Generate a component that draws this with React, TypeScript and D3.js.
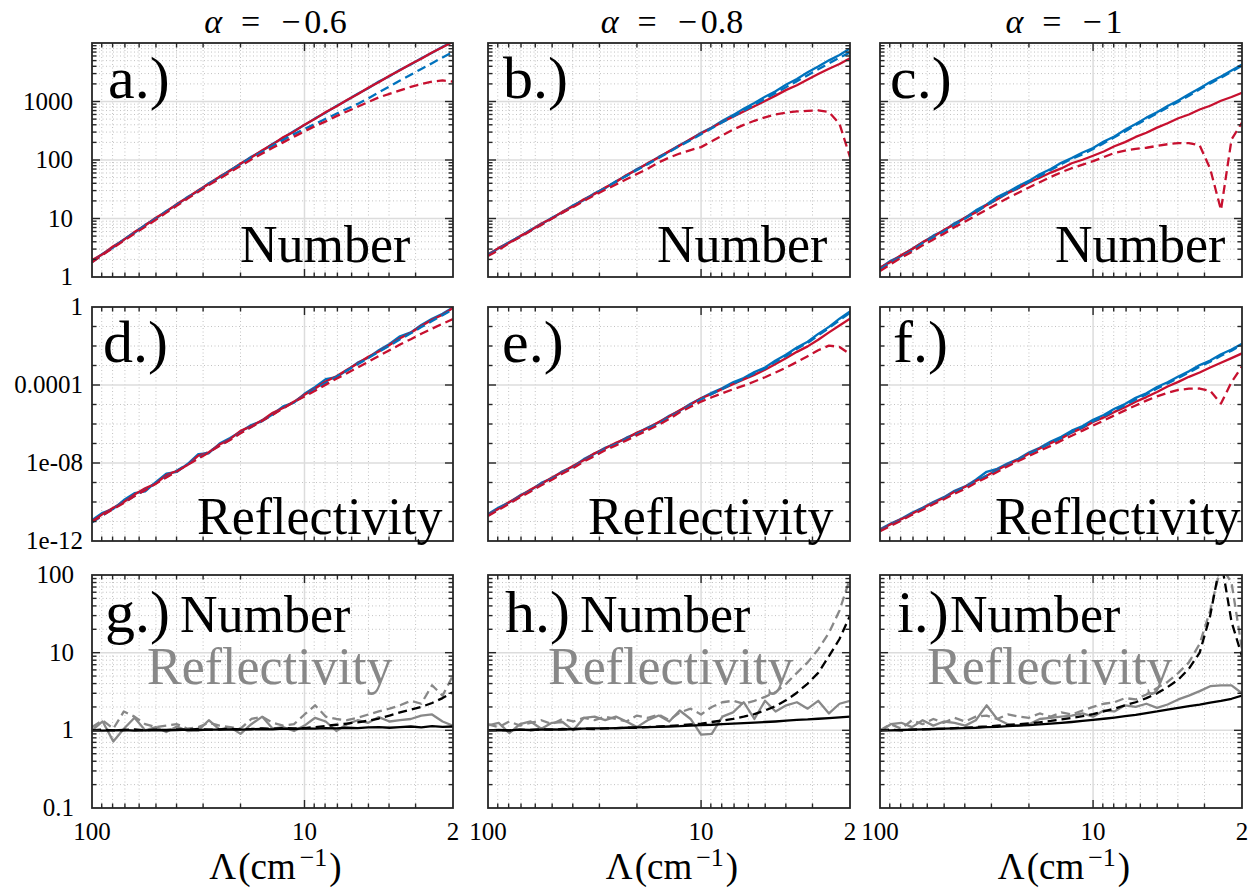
import React from "react";
import * as d3 from "d3";

// Cutoff scale Λ (cm^-1) for every curve
const lambda = [100, 89.1, 79.4, 70.8, 63.1, 56.2, 50.1, 44.7, 39.8, 35.5, 31.6, 28.2, 25.1, 22.4, 20.0, 17.8, 15.8, 14.1, 12.6, 11.2, 10.0, 8.91, 7.94, 7.08, 6.31, 5.62, 5.01, 4.47, 3.98, 3.55, 3.16, 2.82, 2.51, 2.24, 2.0];

const alphaValues = ["0.6", "0.8", "1"];
const panelLetters = ["a", "b", "c", "d", "e", "f", "g", "h", "i"];
const xTickValues = [100, 10, 2];
const xTickLabels = ["100", "10", "2"];
const numberTickValues = [1, 10, 100, 1000];
const numberTickLabels = ["1", "10", "100", "1000"];
const reflTickValues = [1e-12, 1e-8, 1e-4, 1];
const reflTickLabels = ["1e-12", "1e-08", "0.0001", "1"];
const ratioTickValues = [0.1, 1, 10, 100];
const ratioTickLabels = ["0.1", "1", "10", "100"];

// Number, alpha = -0.6
const numA_blue = [1.86, 2.5, 3.2, 4.4, 5.7, 7.8, 9.9, 13.5, 17.2, 23.4, 29.6, 40, 50.5, 67, 85, 114, 143, 190, 238, 314, 395, 515, 645, 840, 1050, 1360, 1690, 2190, 2700, 3480, 4300, 5500, 6800, 8600, 10600];
const numA_red = [1.95, 2.45, 3.35, 4.3, 5.9, 7.6, 10.3, 13.1, 17.8, 22.6, 30.5, 39, 52, 65.5, 87, 110, 147, 185, 245, 305, 402, 505, 660, 822, 1065, 1330, 1720, 2140, 2760, 3420, 4380, 5380, 6900, 8450, 10500];
const numA_blueDash = [1.8, 2.4, 3.25, 4.35, 5.75, 7.5, 10.0, 13.0, 17.3, 22.5, 29.5, 38.5, 50, 65, 85, 109, 138, 175, 220, 277, 339, 415, 506, 617, 750, 910, 1130, 1430, 1810, 2280, 2870, 3600, 4520, 5650, 7060];
const numA_redDash = [1.78, 2.4, 3.16, 4.2, 5.5, 7.2, 9.5, 12.6, 16.6, 21.9, 28.5, 37.2, 47.9, 61.7, 79.4, 102, 129, 162, 200, 251, 309, 380, 457, 562, 676, 813, 977, 1175, 1349, 1549, 1778, 1995, 2188, 2291, 2188];

// Number, alpha = -0.8
const numB_blue = [2.45, 3.1, 3.95, 4.9, 6.4, 8.0, 10.3, 12.8, 16.8, 20.6, 27, 33, 43.5, 54, 70, 86, 113, 140, 181, 224, 292, 360, 470, 585, 750, 940, 1210, 1500, 1960, 2430, 3150, 3950, 5050, 6250, 8100];
const numB_red = [2.4, 3.15, 3.85, 5.0, 6.2, 8.2, 10.0, 13.1, 16.2, 21.3, 26.2, 34, 42, 55.5, 68, 88.5, 110, 143, 176, 229, 285, 355, 447, 550, 676, 832, 1020, 1260, 1580, 1900, 2370, 2950, 3630, 4370, 5500];
const numB_blueDash = [2.35, 3.0, 3.9, 4.95, 6.2, 7.9, 10.1, 12.7, 16.4, 20.8, 26.3, 33.2, 42.5, 53.5, 67.5, 85, 108, 137, 174, 219, 276, 348, 441, 555, 700, 880, 1110, 1400, 1770, 2230, 2810, 3550, 4470, 5600, 6920];
const numB_redDash = [2.29, 2.88, 3.8, 4.79, 6.17, 7.76, 10, 12.6, 15.8, 20, 25.1, 30.9, 38, 46.8, 57.5, 70.8, 91.2, 110, 129, 148, 166, 209, 263, 331, 398, 468, 537, 603, 646, 676, 692, 708, 661, 417, 112];

// Number, alpha = -1
const numC_blue = [1.41, 1.9, 2.3, 3.0, 3.9, 5.1, 6.2, 8.3, 10.3, 13.8, 17.4, 23.3, 28.5, 36, 44, 57, 70, 90, 108, 134, 160, 207, 253, 328, 412, 530, 655, 840, 1040, 1330, 1690, 2150, 2680, 3400, 4270];
const numC_red = [1.45, 1.8, 2.38, 2.98, 3.95, 4.85, 6.4, 7.85, 10.4, 12.7, 16.9, 21.1, 27.3, 32.8, 41.2, 49.6, 61, 71.8, 88, 101, 118, 140, 172, 202, 248, 292, 358, 424, 518, 600, 730, 846, 1030, 1195, 1413];
const numC_blueDash = [1.35, 1.78, 2.25, 2.82, 3.8, 4.8, 6.0, 7.8, 10.0, 12.9, 16.9, 21.8, 27.4, 33.8, 42.5, 53.5, 67.3, 84.7, 104.5, 125, 154, 194, 244, 308, 396, 499, 628, 790, 995, 1252, 1613, 2031, 2557, 3219, 4100];
const numC_redDash = [1.26, 1.66, 2.14, 2.69, 3.47, 4.37, 5.5, 7.08, 8.91, 11.2, 14.1, 17.8, 22.4, 27.5, 33.9, 41.7, 51.3, 61.7, 72.4, 83.2, 95.5, 112, 132, 145, 155, 162, 174, 186, 195, 195, 178, 70.8, 14, 224, 437];

// Reflectivity, alpha = -0.6
const refD_blue = [1.18e-11, 2.82e-11, 4.47e-11, 1.26e-10, 2.82e-10, 3.55e-10, 1.05e-9, 2.82e-9, 3.55e-9, 8.91e-9, 2.82e-8, 3.16e-8, 1.0e-7, 1.91e-7, 3.98e-7, 8.91e-7, 1.41e-6, 3.16e-6, 7.94e-6, 1.26e-5, 3.55e-5, 7.94e-5, 2.0e-4, 2.51e-4, 5.62e-4, 1.41e-3, 2.51e-3, 6.03e-3, 1.26e-2, 3.16e-2, 5.01e-2, 0.12, 0.251, 0.447, 0.955];
const refD_red = [1.0e-11, 2.4e-11, 5.01e-11, 1.0e-10, 2.4e-10, 5.01e-10, 8.91e-10, 2.4e-9, 3.98e-9, 7.94e-9, 2.4e-8, 3.55e-8, 8.91e-8, 1.66e-7, 4.47e-7, 7.59e-7, 1.58e-6, 3.8e-6, 6.61e-6, 1.41e-5, 3.16e-5, 6.61e-5, 1.51e-4, 2.82e-4, 6.03e-4, 1.26e-3, 2.82e-3, 5.25e-3, 1.12e-2, 2.51e-2, 4.79e-2, 0.105, 0.224, 0.398, 0.891];
const refD_blueDash = [8.91e-12, 2.0e-11, 4.79e-11, 9.55e-11, 2.0e-10, 4.17e-10, 9.55e-10, 1.91e-9, 4.17e-9, 8.71e-9, 1.78e-8, 3.8e-8, 7.59e-8, 1.58e-7, 3.55e-7, 7.08e-7, 1.51e-6, 3.02e-6, 6.61e-6, 1.38e-5, 2.82e-5, 6.03e-5, 1.26e-4, 2.63e-4, 5.5e-4, 1.15e-3, 2.4e-3, 5.01e-3, 1.05e-2, 2.19e-2, 4.47e-2, 9.33e-2, 0.191, 0.38, 0.759];
const refD_redDash = [9.55e-12, 2.09e-11, 4.37e-11, 8.91e-11, 2.0e-10, 3.98e-10, 8.71e-10, 1.82e-9, 3.8e-9, 7.94e-9, 1.66e-8, 3.47e-8, 7.59e-8, 1.51e-7, 3.31e-7, 6.92e-7, 1.45e-6, 3.02e-6, 6.31e-6, 1.35e-5, 2.57e-5, 5.13e-5, 1.02e-4, 2.09e-4, 3.98e-4, 7.94e-4, 1.55e-3, 3.09e-3, 6.03e-3, 1.2e-2, 2.24e-2, 4.27e-2, 7.76e-2, 0.138, 0.24];

// Reflectivity, alpha = -0.8
const refE_blue = [2.4e-11, 5.25e-11, 9.55e-11, 2.19e-10, 3.98e-10, 9.55e-10, 1.66e-9, 3.8e-9, 6.61e-9, 1.58e-8, 3.02e-8, 6.03e-8, 1.0e-7, 2.0e-7, 3.31e-7, 6.61e-7, 1.2e-6, 2.63e-6, 4.79e-6, 1.1e-5, 2.09e-5, 3.98e-5, 6.92e-5, 1.38e-4, 2.29e-4, 4.57e-4, 7.94e-4, 1.82e-3, 3.63e-3, 8.32e-3, 1.66e-2, 4.17e-2, 9.55e-2, 0.251, 0.589];
const refE_red = [2.19e-11, 4.57e-11, 1.0e-10, 2.0e-10, 4.37e-10, 8.32e-10, 1.82e-9, 3.47e-9, 7.24e-9, 1.38e-8, 3.16e-8, 5.5e-8, 1.1e-7, 1.82e-7, 3.63e-7, 6.03e-7, 1.26e-6, 2.4e-6, 5.01e-6, 1.0e-5, 2.09e-5, 3.47e-5, 6.31e-5, 1.1e-4, 1.91e-4, 3.31e-4, 6.03e-4, 1.2e-3, 2.4e-3, 5.01e-3, 9.55e-3, 2.09e-2, 5.01e-2, 0.112, 0.251];
const refE_blueDash = [2.0e-11, 4.57e-11, 8.91e-11, 1.91e-10, 3.8e-10, 7.94e-10, 1.58e-9, 3.16e-9, 6.31e-9, 1.32e-8, 2.63e-8, 5.25e-8, 9.12e-8, 1.74e-7, 3.02e-7, 5.75e-7, 1.1e-6, 2.19e-6, 4.37e-6, 9.12e-6, 1.82e-5, 3.47e-5, 6.31e-5, 1.2e-4, 2.09e-4, 3.98e-4, 7.24e-4, 1.58e-3, 3.16e-3, 7.24e-3, 1.45e-2, 3.47e-2, 8.32e-2, 0.209, 0.501];
const refE_redDash = [1.91e-11, 3.98e-11, 8.32e-11, 1.74e-10, 3.47e-10, 7.24e-10, 1.38e-9, 2.88e-9, 5.5e-9, 1.2e-8, 2.29e-8, 4.57e-8, 7.94e-8, 1.45e-7, 2.63e-7, 4.79e-7, 9.12e-7, 1.82e-6, 3.98e-6, 7.59e-6, 1.41e-5, 2.34e-5, 3.8e-5, 6.03e-5, 9.33e-5, 1.51e-4, 2.51e-4, 4.37e-4, 7.94e-4, 1.51e-3, 3.02e-3, 6.03e-3, 1.05e-2, 8.91e-3, 3.89e-3];

// Reflectivity, alpha = -1
const refF_blue = [3.98e-12, 7.94e-12, 1.38e-11, 2.82e-11, 5.01e-11, 1.0e-10, 1.78e-10, 3.8e-10, 6.31e-10, 1.38e-9, 3.55e-9, 5.01e-9, 9.55e-9, 1.66e-8, 3.47e-8, 6.03e-8, 1.26e-7, 2.19e-7, 4.57e-7, 7.94e-7, 1.66e-6, 2.88e-6, 6.03e-6, 1.05e-5, 2.19e-5, 3.8e-5, 7.94e-5, 1.38e-4, 2.75e-4, 5.01e-4, 1.05e-3, 1.82e-3, 3.8e-3, 6.61e-3, 1.32e-2];
const refF_red = [3.63e-12, 7.24e-12, 1.32e-11, 2.51e-11, 4.79e-11, 9.12e-11, 1.66e-10, 3.31e-10, 6.03e-10, 1.2e-9, 2.19e-9, 4.37e-9, 8.32e-9, 1.51e-8, 3.02e-8, 5.5e-8, 1.05e-7, 1.82e-7, 3.63e-7, 6.31e-7, 1.26e-6, 2.19e-6, 4.17e-6, 7.24e-6, 1.38e-5, 2.4e-5, 4.37e-5, 8.32e-5, 1.45e-4, 2.63e-4, 4.37e-4, 7.94e-4, 1.38e-3, 2.4e-3, 4.17e-3];
const refF_blueDash = [3.31e-12, 6.92e-12, 1.2e-11, 2.4e-11, 4.57e-11, 8.71e-11, 1.58e-10, 3.16e-10, 5.75e-10, 1.15e-9, 2.19e-9, 4.17e-9, 7.94e-9, 1.51e-8, 2.88e-8, 5.25e-8, 1.05e-7, 1.91e-7, 3.8e-7, 6.92e-7, 1.38e-6, 2.51e-6, 5.01e-6, 9.12e-6, 1.82e-5, 3.31e-5, 6.61e-5, 1.2e-4, 2.29e-4, 4.37e-4, 8.71e-4, 1.58e-3, 3.16e-3, 5.75e-3, 1.15e-2];
const refF_redDash = [3.16e-12, 6.03e-12, 1.12e-11, 2.19e-11, 3.98e-11, 7.59e-11, 1.38e-10, 2.63e-10, 4.79e-10, 9.55e-10, 1.82e-9, 3.47e-9, 6.92e-9, 1.26e-8, 2.29e-8, 4.17e-8, 7.59e-8, 1.38e-7, 2.51e-7, 4.57e-7, 8.32e-7, 1.51e-6, 2.75e-6, 5.01e-6, 8.91e-6, 1.58e-5, 2.63e-5, 3.98e-5, 5.62e-5, 6.46e-5, 6.61e-5, 5.01e-5, 1.12e-5, 1.41e-4, 8.91e-4];

// Ratios, alpha = -0.6 (black: number, gray: reflectivity)
const ratG_num = [1.0, 0.99, 1.0, 1.01, 0.99, 1.0, 1.01, 1.0, 1.01, 1.02, 1.01, 1.02, 1.02, 1.03, 1.02, 1.03, 1.04, 1.03, 1.05, 1.04, 1.06, 1.05, 1.07, 1.06, 1.08, 1.07, 1.09, 1.1, 1.08, 1.1, 1.12, 1.09, 1.13, 1.11, 1.12];
const ratG_numDash = [1.0, 1.02, 1.0, 1.01, 1.03, 1.0, 1.02, 1.01, 1.03, 1.02, 1.04, 1.02, 1.03, 1.05, 1.03, 1.04, 1.06, 1.05, 1.07, 1.06, 1.07, 1.1, 1.14, 1.18, 1.22, 1.27, 1.33, 1.42, 1.55, 1.7, 1.85, 2.0, 2.25, 2.6, 3.1];
const ratG_ref = [1.0, 1.3, 0.72, 1.05, 1.45, 1.0, 1.1, 0.95, 1.12, 0.98, 1.0, 1.35, 1.02, 1.1, 0.9, 1.2, 1.5, 1.05, 1.1, 0.98, 1.15, 1.45, 1.3, 0.98, 1.2, 1.35, 1.25, 1.48, 1.3, 1.35, 1.4, 1.55, 1.6, 1.3, 1.15];
const ratG_refDash = [1.1, 1.35, 1.05, 1.75, 1.5, 1.2, 1.1, 1.15, 1.2, 1.05, 1.1, 1.25, 1.15, 1.1, 1.05, 1.4, 1.5, 1.25, 1.15, 1.2, 1.6, 2.1, 1.5, 1.4, 1.35, 1.45, 1.6, 1.75, 1.9, 2.1, 2.4, 2.2, 3.8, 2.8, 5.1];

// Ratios, alpha = -0.8
const ratH_num = [1.0, 1.01, 1.0, 1.02, 1.01, 1.02, 1.03, 1.02, 1.04, 1.05, 1.06, 1.06, 1.07, 1.08, 1.09, 1.1, 1.11, 1.12, 1.13, 1.15, 1.17, 1.18, 1.2, 1.22, 1.24, 1.26, 1.28, 1.3, 1.33, 1.36, 1.38, 1.41, 1.44, 1.47, 1.5];
const ratH_numDash = [1.0, 1.01, 1.0, 1.02, 1.01, 1.03, 1.02, 1.04, 1.03, 1.05, 1.04, 1.06, 1.07, 1.08, 1.08, 1.1, 1.12, 1.14, 1.16, 1.19, 1.22, 1.28, 1.34, 1.4, 1.5, 1.62, 1.8, 2.05, 2.45, 3.05, 4.0, 5.5, 9.0, 15, 30];
const ratH_ref = [1.16, 1.25, 0.92, 1.2, 1.3, 1.05, 1.25, 1.28, 1.0, 1.45, 1.5, 1.35, 1.5, 1.3, 1.1, 1.35, 1.55, 1.3, 1.8, 1.4, 0.88, 0.9, 1.5, 1.7, 2.3, 1.4, 2.4, 1.75, 2.1, 2.3, 1.9, 2.4, 1.65, 2.2, 2.4];
const ratH_refDash = [1.2, 1.1, 1.3, 1.15, 1.25, 1.35, 1.2, 1.4, 1.3, 1.45, 1.35, 1.5, 1.4, 1.3, 1.55, 1.45, 1.6, 1.35, 1.7, 1.9, 1.6, 2.0, 2.3, 2.4, 2.2, 2.4, 2.7, 3.1, 4.0, 5.5, 7.5, 11, 18, 35, 90];

// Ratios, alpha = -1
const ratI_num = [1.0, 1.0, 1.01, 1.02, 1.03, 1.04, 1.05, 1.06, 1.07, 1.08, 1.1, 1.11, 1.13, 1.15, 1.17, 1.19, 1.22, 1.25, 1.28, 1.32, 1.36, 1.41, 1.46, 1.52, 1.58, 1.67, 1.75, 1.85, 1.95, 2.05, 2.15, 2.28, 2.4, 2.55, 2.8];
const ratI_numDash = [1.0, 1.02, 1.0, 1.02, 1.03, 1.04, 1.05, 1.07, 1.08, 1.1, 1.12, 1.15, 1.17, 1.2, 1.23, 1.27, 1.32, 1.38, 1.44, 1.52, 1.62, 1.75, 1.9, 2.1, 2.3, 2.6, 3.0, 3.6, 4.5, 6.2, 10, 30, 160, 25, 9];
const ratI_ref = [0.97, 1.2, 1.25, 1.1, 1.35, 1.15, 1.3, 1.25, 1.15, 1.35, 2.1, 1.4, 1.2, 1.15, 1.2, 1.4, 1.45, 1.5, 1.55, 1.65, 1.5, 1.8, 1.75, 2.1, 2.0, 2.2, 1.95, 2.15, 2.5, 2.8, 3.2, 3.7, 3.8, 3.8, 3.0];
const ratI_refDash = [1.0, 1.2, 1.05, 1.35, 1.2, 1.4, 1.25, 1.45, 1.3, 1.5, 1.55, 1.4, 1.6, 1.5, 1.45, 1.65, 1.5, 1.7, 1.6, 1.8, 2.0, 2.2, 2.3, 2.6, 2.5, 2.9, 3.5, 4.2, 5.5, 7.5, 13, 35, 130, 80, 11];

const BLUE = "#0072BD";
const RED = "#C7102F";
const BLACK = "#000000";
const GRAY = "#888888";
const AXIS = "#262626";

type Series = { values: number[]; color: string; dashed: boolean };
const s = (values: number[], color: string, dashed: boolean): Series => ({ values, color, dashed });

const panelSeries: Series[][] = [
  [s(numA_blue, BLUE, false), s(numA_red, RED, false), s(numA_blueDash, BLUE, true), s(numA_redDash, RED, true)],
  [s(numB_blue, BLUE, false), s(numB_red, RED, false), s(numB_blueDash, BLUE, true), s(numB_redDash, RED, true)],
  [s(numC_blue, BLUE, false), s(numC_red, RED, false), s(numC_blueDash, BLUE, true), s(numC_redDash, RED, true)],
  [s(refD_blue, BLUE, false), s(refD_red, RED, false), s(refD_blueDash, BLUE, true), s(refD_redDash, RED, true)],
  [s(refE_blue, BLUE, false), s(refE_red, RED, false), s(refE_blueDash, BLUE, true), s(refE_redDash, RED, true)],
  [s(refF_blue, BLUE, false), s(refF_red, RED, false), s(refF_blueDash, BLUE, true), s(refF_redDash, RED, true)],
  [s(ratG_ref, GRAY, false), s(ratG_refDash, GRAY, true), s(ratG_num, BLACK, false), s(ratG_numDash, BLACK, true)],
  [s(ratH_ref, GRAY, false), s(ratH_refDash, GRAY, true), s(ratH_num, BLACK, false), s(ratH_numDash, BLACK, true)],
  [s(ratI_ref, GRAY, false), s(ratI_refDash, GRAY, true), s(ratI_num, BLACK, false), s(ratI_numDash, BLACK, true)],
];

// Layout of the 3 x 3 grid of axes
const colX = [[92, 453], [488, 850], [880, 1242]];
const rowY = [[43, 277], [307, 541], [575, 808]];

function decadeMinors(e0: number, e1: number): number[] {
  const out: number[] = [];
  for (let e = e0; e <= e1; e++) for (let m = 2; m <= 9; m++) out.push(m * Math.pow(10, e));
  return out;
}

const reflMinor: number[] = [];
for (let e = -11; e <= -1; e++) if (e !== -8 && e !== -4) reflMinor.push(Math.pow(10, e));

const rowCfg = [
  { domain: [1, 1e4], major: numberTickValues, labels: numberTickLabels, minor: decadeMinors(0, 3), labelRight: 73 },
  { domain: [1e-12, 1], major: reflTickValues, labels: reflTickLabels, minor: reflMinor, labelRight: 83 },
  { domain: [0.1, 100], major: ratioTickValues, labels: ratioTickLabels, minor: decadeMinors(-1, 1), labelRight: 74 },
];

const xMinor = [90, 80, 70, 60, 50, 40, 30, 20, 9, 8, 7, 6, 5, 4, 3];

// Text placement inside each panel
const letterX = [[108, 503, 890], [103, 502, 893], [105, 505, 897]];
const letterBaseline = [98, 362, 632];
const numberTextX = [240, 657, 1055];
const reflTextX = [197, 588, 995];
const row3NumberX = [180, 580, 950];
const row3ReflX = [147, 548, 927];

function Panel({ row, col }: { row: number; col: number }) {
  const [x0, x1] = colX[col];
  const [y0, y1] = rowY[row];
  const cfg = rowCfg[row];
  const xs = d3.scaleLog().domain([100, 2]).range([x0, x1]);
  const ys = d3.scaleLog().domain(cfg.domain).range([y1, y0]);
  const line = d3
    .line<number>()
    .x((_, i) => xs(lambda[i]))
    .y((d) => ys(d));
  const idx = row * 3 + col;
  const clipId = `clip-${idx}`;
  const MAJ = 8;
  const MIN = 4.5;
  const inY = (v: number) => v > cfg.domain[0] * 1.0001 && v < cfg.domain[1] * 0.9999;
  const inX = (v: number) => v < 99.99 && v > 2.0001;

  return (
    <g>
      <defs>
        <clipPath id={clipId}>
          <rect x={x0} y={y0} width={x1 - x0} height={y1 - y0} />
        </clipPath>
      </defs>
      <rect x={x0} y={y0} width={x1 - x0} height={y1 - y0} fill="#ffffff" />
      {/* minor grid */}
      <g stroke="#c2c2c2" strokeWidth={1} strokeDasharray="1,2.5">
        {cfg.minor.filter(inY).map((v) => (
          <line key={`gy${v}`} x1={x0} x2={x1} y1={ys(v)} y2={ys(v)} />
        ))}
        {xMinor.map((v) => (
          <line key={`gx${v}`} x1={xs(v)} x2={xs(v)} y1={y0} y2={y1} />
        ))}
      </g>
      {/* major grid */}
      <g stroke="#dcdcdc" strokeWidth={1.5}>
        {cfg.major.filter(inY).map((v) => (
          <line key={`My${v}`} x1={x0} x2={x1} y1={ys(v)} y2={ys(v)} />
        ))}
        {xTickValues.filter(inX).map((v) => (
          <line key={`Mx${v}`} x1={xs(v)} x2={xs(v)} y1={y0} y2={y1} />
        ))}
      </g>
      {/* data */}
      <g clipPath={`url(#${clipId})`} fill="none" strokeLinejoin="round">
        {panelSeries[idx].map((sr, k) => (
          <path
            key={k}
            d={line(sr.values) || ""}
            stroke={sr.color}
            strokeWidth={2.3}
            strokeDasharray={sr.dashed ? "9,5" : undefined}
          />
        ))}
      </g>
      {/* ticks */}
      <g stroke={AXIS} strokeWidth={1.4}>
        {cfg.major.filter(inY).map((v) => (
          <g key={`ty${v}`}>
            <line x1={x0} x2={x0 + MAJ} y1={ys(v)} y2={ys(v)} />
            <line x1={x1} x2={x1 - MAJ} y1={ys(v)} y2={ys(v)} />
          </g>
        ))}
        {cfg.minor.filter(inY).map((v) => (
          <g key={`tmy${v}`}>
            <line x1={x0} x2={x0 + MIN} y1={ys(v)} y2={ys(v)} />
            <line x1={x1} x2={x1 - MIN} y1={ys(v)} y2={ys(v)} />
          </g>
        ))}
        {xTickValues.filter(inX).map((v) => (
          <g key={`tx${v}`}>
            <line x1={xs(v)} x2={xs(v)} y1={y1} y2={y1 - MAJ} />
            <line x1={xs(v)} x2={xs(v)} y1={y0} y2={y0 + MAJ} />
          </g>
        ))}
        {xMinor.map((v) => (
          <g key={`tmx${v}`}>
            <line x1={xs(v)} x2={xs(v)} y1={y1} y2={y1 - MIN} />
            <line x1={xs(v)} x2={xs(v)} y1={y0} y2={y0 + MIN} />
          </g>
        ))}
      </g>
      <rect x={x0} y={y0} width={x1 - x0} height={y1 - y0} fill="none" stroke={AXIS} strokeWidth={1.8} />

      {/* y tick labels on the first column */}
      {col === 0 &&
        cfg.major.map((v, i) => (
          <text key={`ly${v}`} x={cfg.labelRight} y={ys(v) + 8} textAnchor="end" fontSize={25} fill="#000">
            {cfg.labels[i]}
          </text>
        ))}

      {/* x tick labels and axis title on the bottom row */}
      {row === 2 &&
        xTickValues.map((v, i) => (
          <text key={`lx${v}`} x={xs(v)} y={840} textAnchor="middle" fontSize={25} fill="#000">
            {xTickLabels[i]}
          </text>
        ))}
      {row === 2 && (
        <text x={(x0 + x1) / 2 + 3} y={879} textAnchor="middle" fontSize={37} fill="#000">
          Λ
          <tspan dx={2}>(cm</tspan>
          <tspan dx={4} dy={-13} fontSize={26}>−1</tspan>
          <tspan dx={2} dy={13}>)</tspan>
        </text>
      )}

      {/* column titles */}
      {row === 0 && (
        <text x={(x0 + x1) / 2 + 3} y={33} textAnchor="middle" fontSize={34} fill="#000">
          <tspan fontStyle="italic">α</tspan>
          <tspan dx={19}>=</tspan>
          <tspan dx={21}>−</tspan>
          <tspan dx={4}>{alphaValues[col]}</tspan>
        </text>
      )}

      {/* panel letter */}
      <text x={letterX[row][col]} y={letterBaseline[row]} fontSize={60} fill="#000">
        {panelLetters[idx]}.)
      </text>

      {row === 0 && (
        <text x={numberTextX[col]} y={262} fontSize={52} fill="#000">
          Number
        </text>
      )}
      {row === 1 && (
        <text x={reflTextX[col]} y={534} fontSize={52} fill="#000">
          Reflectivity
        </text>
      )}
      {row === 2 && (
        <g>
          <text x={row3NumberX[col]} y={632} fontSize={52} fill="#000">
            Number
          </text>
          <text x={row3ReflX[col]} y={684} fontSize={52} fill={GRAY}>
            Reflectivity
          </text>
        </g>
      )}
    </g>
  );
}

export default function App() {
  const cells: { row: number; col: number }[] = [];
  for (let r = 0; r < 3; r++) for (let c = 0; c < 3; c++) cells.push({ row: r, col: c });
  return (
    <svg
      width={1258}
      height={891}
      viewBox="0 0 1258 891"
      style={{ position: "absolute", left: 0, top: 0, background: "#ffffff" }}
    >
      <rect x={0} y={0} width={1258} height={891} fill="#ffffff" />
      {cells.map((c) => (
        <Panel key={`${c.row}-${c.col}`} row={c.row} col={c.col} />
      ))}
    </svg>
  );
}
